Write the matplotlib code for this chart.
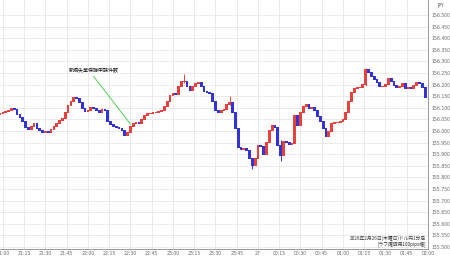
import matplotlib
matplotlib.use("Agg")
import matplotlib.pyplot as plt
import numpy as np

# ---- data (2-minute candles from 20:58, minutes relative to 21:00) ----
start_minute = -2
step_minutes = 2
first_open = 156.070
closes = [
    156.075, 156.079, 156.084, 156.088, 156.097, 156.092, 156.071, 156.058, 156.041, 156.015,
    156.006, 156.019, 156.032, 156.011, 156.002, 155.994, 155.998, 155.994, 156.006, 156.019,
    156.032, 156.045, 156.054, 156.079, 156.109, 156.127, 156.144, 156.139, 156.122, 156.097,
    156.084, 156.088, 156.101, 156.097, 156.088, 156.079, 156.092, 156.088, 156.041, 156.028,
    156.019, 156.015, 156.011, 156.002, 155.981, 155.994, 156.019, 156.032, 156.036, 156.032,
    156.049, 156.067, 156.075, 156.075, 156.079, 156.079, 156.084, 156.088, 156.105, 156.127,
    156.152, 156.161, 156.157, 156.191, 156.212, 156.212, 156.191, 156.174, 156.191, 156.204,
    156.208, 156.191, 156.170, 156.165, 156.161, 156.127, 156.088, 156.079, 156.088, 156.092,
    156.114, 156.122, 156.079, 156.011, 155.929, 155.921, 155.925, 155.916, 155.882, 155.852,
    155.882, 155.938, 155.933, 155.899, 155.951, 156.002, 156.024, 156.015, 155.938, 155.895,
    155.955, 155.951, 155.942, 155.946, 156.067, 156.024, 156.079, 156.105, 156.114, 156.097,
    156.101, 156.088, 156.062, 156.041, 156.011, 155.976, 155.998, 156.032, 156.036, 156.036,
    156.041, 156.049, 156.079, 156.127, 156.165, 156.182, 156.187, 156.187, 156.200, 156.264,
    156.251, 156.234, 156.221, 156.208, 156.191, 156.191, 156.200, 156.225, 156.212, 156.195,
    156.187, 156.191, 156.204, 156.182, 156.187, 156.182, 156.195, 156.208, 156.204, 156.187,
    156.144,
]
# a few visible wicks: candle index -> (low, high)
wick_index = [65, 81, 89, 99, 129]
wick_low = [156.205, 156.110, 155.835, 155.872, 156.195]
wick_high = [156.247, 156.152, 155.885, 155.960, 156.272]

x_tick_minutes = list(range(0, 301, 15))
x_tick_labels = ["21:00", "21:15", "21:30", "21:45", "22:00", "22:15", "22:30", "22:45",
                 "23:00", "23:15", "23:30", "23:45", "27", "00:15", "00:30", "00:45",
                 "01:00", "01:15", "01:30", "01:45", "02:00"]
y_ticks = [155.5 + 0.05 * i for i in range(21)]

event_label = "新規失業保険申請件数"
event_minute = 90
event_text_minute = 64
event_text_price = 156.262
event_line_top = 156.235
event_line_bottom = 156.030

caption_lines = ["2026年2月26日(木曜日)ドル円1分足", "[ラフ確認用100pips幅]"]

# ---- figure ----
W, H = 450, 258
fig = plt.figure(figsize=(W / 100, H / 100), dpi=100)
ax = fig.add_axes([0, (H - 248.5) / H, 428 / W, 248.5 / H])

opens = [first_open] + closes[:-1]
t = np.array([start_minute + step_minutes * i for i in range(len(closes))], dtype=float)
o = np.array(opens)
c = np.array(closes)
red = "#e6413d"
blue = "#3434d4"
cols = [red if ci >= oi else blue for oi, ci in zip(o, c)]
bottoms = np.minimum(o, c) - 0.002
heights = np.abs(c - o) + 0.004
ax.bar(t, heights, bottom=bottoms, width=1.9, color=cols, linewidth=0, zorder=3)
for i, lo, hi in zip(wick_index, wick_low, wick_high):
    ax.vlines(t[i], lo, hi, color=cols[i], linewidth=0.7, zorder=2)

ax.set_xlim(-2.1, 300)
ax.set_ylim(156.5 - 233.5 / 232, 156.5 + 15 / 232)

ax.set_xticks(x_tick_minutes)
ax.set_xticklabels(x_tick_labels)
ax.set_yticks(y_ticks)
ax.set_yticklabels([f"{v:.3f}" for v in y_ticks])
ax.yaxis.tick_right()
ax.tick_params(axis="both", length=0, labelsize=3.3, colors="#666666")
ax.tick_params(axis="y", pad=2.5)
ax.tick_params(axis="x", pad=1.5)

ax.grid(True, color="#e8e8e8", linewidth=0.6, zorder=0)
ax.set_axisbelow(True)
for s in ["top", "left"]:
    ax.spines[s].set_visible(False)
for s in ["right", "bottom"]:
    ax.spines[s].set_color("#999999")
    ax.spines[s].set_linewidth(0.7)

fig.text(437 / W, 1 - 5 / H, "JPY", fontsize=3.3, color="#555555", ha="left", va="center")

cjk = ["Noto Sans CJK JP", "DejaVu Sans"]
ax.text(event_text_minute, event_text_price, event_label, family=cjk, fontsize=3.6,
        color="#111111", ha="center", va="center", zorder=5)
ax.plot([event_text_minute, event_minute], [event_line_top, event_line_bottom],
        color="#33cc33", linewidth=0.6, zorder=4)

ax.text(298.5, 155.526, caption_lines[0] + "\n" + caption_lines[1], family=cjk,
        fontsize=3.4, color="#333333", ha="right", va="center", linespacing=1.1, zorder=5)

fig.savefig("out.png", dpi=100, facecolor="white")
